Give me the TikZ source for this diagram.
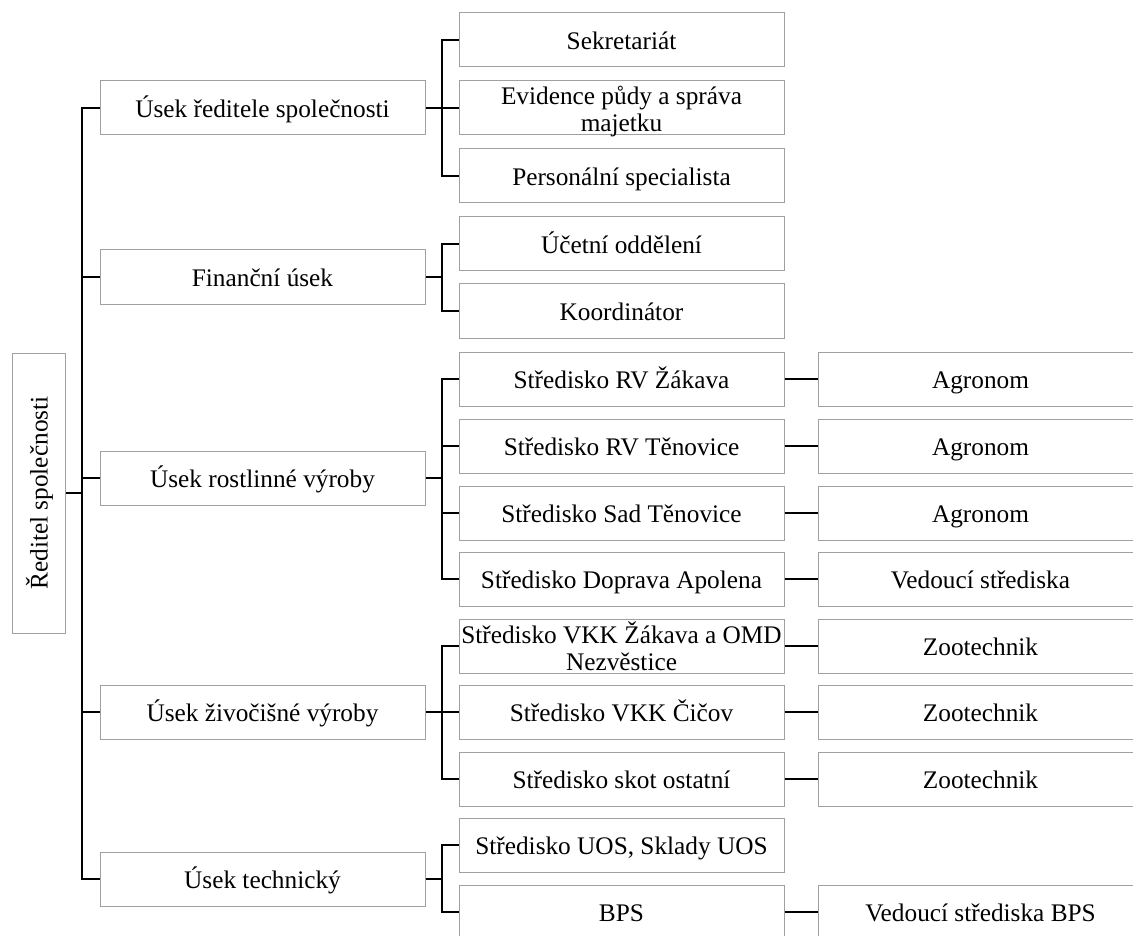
\documentclass[tikz,border=0pt]{standalone}
\usepackage{fontspec}
\setmainfont{Liberation Serif}
\definecolor{boxgray}{RGB}{160,160,160}
\newcommand{\twoline}[2]{\raisebox{0pt}[8pt][14pt]{\begin{tabular}[t]{@{}c@{}}#1\\#2\end{tabular}}}
\begin{document}
\begin{tikzpicture}[x=1pt,y=-1pt,
  box/.style={draw=boxgray, line width=1pt, minimum width=325pt, minimum height=54pt,
    align=center, inner sep=0pt, font=\fontsize{25.3}{27}\selectfont},
  one/.style={box, text height=24.6pt, text depth=6pt},
  two/.style={box},
  conn/.style={line width=2pt, draw=black}]
\useasboundingbox (0,0) rectangle (1133,936);
% root
\node[box, minimum width=53pt, minimum height=280pt] (root) at (38.5,493)
  {\rotatebox{90}{\rule[-6pt]{0pt}{30pt}Ředitel společnosti}};
% level 1
\node[one] (l1a) at (262.5,108) {Úsek ředitele společnosti};
\node[one] (l1b) at (262.5,277) {Finanční úsek};
\node[one] (l1c) at (262.5,478) {Úsek rostlinné výroby};
\node[one] (l1d) at (262.5,712) {Úsek živočišné výroby};
\node[one] (l1e) at (262.5,879) {Úsek technický};
% level 2
\node[one] (s1) at (621.5,40) {Sekretariát};
\node[two] (s2) at (621.5,108) {\twoline{Evidence půdy a správa}{majetku}};
\node[one] (s3) at (621.5,176) {Personální specialista};
\node[one] (f1) at (621.5,244) {Účetní oddělení};
\node[one] (f2) at (621.5,311) {Koordinátor};
\node[one] (r1) at (621.5,379) {Středisko RV Žákava};
\node[one] (r2) at (621.5,446) {Středisko RV Těnovice};
\node[one] (r3) at (621.5,513) {Středisko Sad Těnovice};
\node[one] (r4) at (621.5,579) {Středisko Doprava Apolena};
\node[two] (z1) at (621.5,646) {\twoline{Středisko VKK Žákava a OMD}{Nezvěstice}};
\node[one] (z2) at (621.5,712) {Středisko VKK Čičov};
\node[one] (z3) at (621.5,779) {Středisko skot ostatní};
\node[one] (t1) at (621.5,845) {Středisko UOS, Sklady UOS};
\node[one] (t2) at (621.5,912) {BPS};
% level 3
\node[one] (a1) at (980.5,379) {Agronom};
\node[one] (a2) at (980.5,446) {Agronom};
\node[one] (a3) at (980.5,513) {Agronom};
\node[one] (a4) at (980.5,579) {Vedoucí střediska};
\node[one] (zt1) at (980.5,646) {Zootechnik};
\node[one] (zt2) at (980.5,712) {Zootechnik};
\node[one] (zt3) at (980.5,779) {Zootechnik};
\node[one] (v1) at (980.5,912) {Vedoucí střediska BPS};
% connectors
\coordinate (trunk) at (82,0);
\coordinate (br) at (442,0);
\draw[conn] (root.east) -- (trunk |- root.east);
\draw[conn] (l1a.west) -- (trunk |- l1a.west) -- (trunk |- l1e.west) -- (l1e.west);
\foreach \n in {l1b,l1c,l1d} \draw[conn] (trunk |- \n.west) -- (\n.west);
% brackets
\draw[conn] (s1.west) -- (br |- s1.west) -- (br |- s3.west) -- (s3.west);
\draw[conn] (l1a.east) -- (s2.west);
\draw[conn] (f1.west) -- (br |- f1.west) -- (br |- f2.west) -- (f2.west);
\draw[conn] (l1b.east) -- (br |- l1b.east);
\draw[conn] (r1.west) -- (br |- r1.west) -- (br |- r4.west) -- (r4.west);
\draw[conn] (l1c.east) -- (br |- l1c.east);
\foreach \n in {r2,r3} \draw[conn] (br |- \n.west) -- (\n.west);
\draw[conn] (z1.west) -- (br |- z1.west) -- (br |- z3.west) -- (z3.west);
\draw[conn] (l1d.east) -- (z2.west);
\draw[conn] (t1.west) -- (br |- t1.west) -- (br |- t2.west) -- (t2.west);
\draw[conn] (l1e.east) -- (br |- l1e.east);
% level 2 to level 3
\foreach \a/\b in {r1/a1,r2/a2,r3/a3,r4/a4,z1/zt1,z2/zt2,z3/zt3,t2/v1} \draw[conn] (\a.east) -- (\b.west);
\end{tikzpicture}
\end{document}
